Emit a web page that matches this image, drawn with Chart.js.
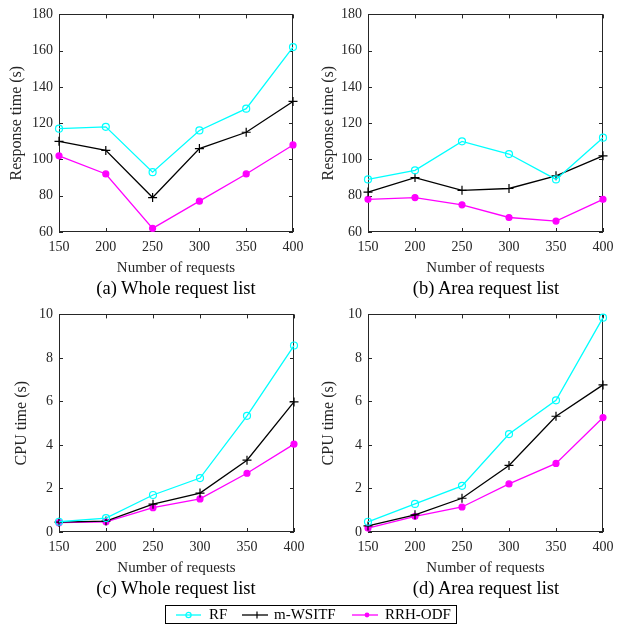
<!DOCTYPE html>
<html>
<head>
<meta charset="utf-8">
<script src="https://cdn.jsdelivr.net/npm/chart.js"></script>
<style>
  body { margin: 0; background: #fff; font-family: "Liberation Serif", "Times New Roman", serif; }
  #page { position: relative; width: 628px; height: 626px; }
  .panel { position: absolute; width: 314px; height: 280px; }
  .caption { position: absolute; font-size: 18.5px; line-height: 22px; color: #000; white-space: nowrap; transform: translateX(-50%); }
  #legend { position: absolute; left: 165px; top: 605px; width: 290px; height: 17px; border: 1px solid #000; font-size: 15px; color: #000; white-space: nowrap; }
  #legend svg { position: absolute; top: 4px; }
  #legend span { position: absolute; top: 0; line-height: 17px; }
</style>
</head>
<body>
<div id="page">
  <div class="panel" style="left:0;top:0"><canvas id="c1"></canvas></div>
  <div class="panel" style="left:314px;top:0"><canvas id="c2"></canvas></div>
  <div class="panel" style="left:0;top:300px"><canvas id="c3"></canvas></div>
  <div class="panel" style="left:314px;top:300px"><canvas id="c4"></canvas></div>
  <div class="caption" style="left:176px;top:277px">(a) Whole request list</div>
  <div class="caption" style="left:486px;top:277px">(b) Area request list</div>
  <div class="caption" style="left:176px;top:577px">(c) Whole request list</div>
  <div class="caption" style="left:486px;top:577px">(d) Area request list</div>
  <div id="legend">
    <svg style="left:10px" width="25" height="10"><line x1="0" y1="5" x2="25" y2="5" stroke="#00FFFF" stroke-width="1.3"/><circle cx="12.5" cy="5" r="2.6" fill="none" stroke="#00FFFF" stroke-width="1.2"/></svg>
    <span style="left:43px">RF</span>
    <svg style="left:76px" width="26" height="10"><line x1="0" y1="5" x2="26" y2="5" stroke="#000" stroke-width="1.3"/><line x1="15" y1="1.5" x2="15" y2="8.5" stroke="#000" stroke-width="1.2"/></svg>
    <span style="left:108px">m-WSITF</span>
    <svg style="left:186px" width="26" height="10"><line x1="0" y1="5" x2="26" y2="5" stroke="#FF00FF" stroke-width="1.3"/><circle cx="15" cy="5" r="2.4" fill="#FF00FF"/></svg>
    <span style="left:219px">RRH-ODF</span>
  </div>
</div>
<script>
const requests = [150, 200, 250, 300, 350, 400];
const seriesNames = ['RF', 'm-WSITF', 'RRH-ODF'];

// response time, whole request list
const wholeRespRF = [117, 118, 93, 116, 128, 162];
const wholeRespMW = [110, 105, 79, 106, 115, 132];
const wholeRespRRH = [102, 92, 62, 77, 92, 108];

// response time, area request list
const areaRespRF = [89, 94, 110, 103, 89, 112];
const areaRespMW = [82, 90, 83, 84, 91, 102];
const areaRespRRH = [78, 79, 75, 68, 66, 78];

// cpu time, whole request list
const wholeCpuRF = [0.47, 0.64, 1.70, 2.48, 5.34, 8.57];
const wholeCpuMW = [0.45, 0.50, 1.28, 1.79, 3.30, 5.98];
const wholeCpuRRH = [0.43, 0.47, 1.12, 1.52, 2.70, 4.04];

// cpu time, area request list
const areaCpuRF = [0.47, 1.29, 2.12, 4.50, 6.05, 9.85];
const areaCpuMW = [0.28, 0.79, 1.55, 3.06, 5.32, 6.76];
const areaCpuRRH = [0.18, 0.72, 1.15, 2.21, 3.15, 5.26];

const respTicks = [60, 80, 100, 120, 140, 160, 180];
const cpuTicks = [0, 2, 4, 6, 8, 10];

const axisColor = '#262626';
const serif = '"Liberation Serif", "Times New Roman", serif';

const styles = [
  { color: '#00FFFF', pointStyle: 'circle', radius: 3.5, fill: 'rgba(0,0,0,0)' },
  { color: '#000000', pointStyle: 'cross', radius: 4.5, fill: '#000000' },
  { color: '#FF00FF', pointStyle: 'circle', radius: 3, fill: '#FF00FF' }
];

// box round the plot area with inward ticks on every side
const boxAxes = {
  id: 'boxAxes',
  beforeDatasetsDraw(chart) {
    const { ctx, chartArea: a, scales: { x, y } } = chart;
    const len = 4;
    ctx.save();
    ctx.strokeStyle = axisColor;
    ctx.lineWidth = 1;
    ctx.strokeRect(Math.round(a.left) + 0.5, Math.round(a.top) + 0.5,
                   Math.round(a.width) - 1, Math.round(a.height) - 1);
    ctx.beginPath();
    x.ticks.forEach(t => {
      const px = Math.round(x.getPixelForValue(t.value)) + 0.5;
      ctx.moveTo(px, a.bottom); ctx.lineTo(px, a.bottom - len);
      ctx.moveTo(px, a.top); ctx.lineTo(px, a.top + len);
    });
    y.ticks.forEach(t => {
      const py = Math.round(y.getPixelForValue(t.value)) + 0.5;
      ctx.moveTo(a.left, py); ctx.lineTo(a.left + len, py);
      ctx.moveTo(a.right, py); ctx.lineTo(a.right - len, py);
    });
    ctx.stroke();
    ctx.restore();
  }
};

function makePanel(id, series, yTicks, yTitle, leftWidth, rightPad, titleCenter) {
  const datasets = series.map((vals, i) => ({
    label: seriesNames[i],
    data: requests.map((r, j) => ({ x: r, y: vals[j] })),
    borderColor: styles[i].color,
    backgroundColor: styles[i].fill,
    pointBorderColor: styles[i].color,
    pointBackgroundColor: styles[i].fill,
    pointStyle: styles[i].pointStyle,
    pointRadius: styles[i].radius,
    pointBorderWidth: 1.2,
    borderWidth: 1.3,
    tension: 0,
    clip: false
  }));

  new Chart(document.getElementById(id), {
    type: 'line',
    data: { datasets },
    options: {
      responsive: false,
      animation: false,
      events: [],
      layout: { padding: { left: 0, right: rightPad, top: 9, bottom: 0 } },
      plugins: { legend: { display: false }, tooltip: { enabled: false } },
      scales: {
        x: {
          type: 'linear',
          min: requests[0],
          max: requests[requests.length - 1],
          afterBuildTicks: s => { s.ticks = requests.map(v => ({ value: v })); },
          grid: { display: false, drawTicks: false },
          border: { display: false },
          ticks: { color: axisColor, font: { family: serif, size: 14 }, padding: 7, maxRotation: 0 },
          title: { display: true, text: 'Number of requests', color: axisColor,
                   font: { family: serif, size: 15 }, padding: { top: 0, bottom: 3 } },
          afterFit: s => { s.height = 48; }
        },
        y: {
          min: yTicks[0],
          max: yTicks[yTicks.length - 1],
          afterBuildTicks: s => { s.ticks = yTicks.map(v => ({ value: v })); },
          grid: { display: false, drawTicks: false },
          border: { display: false },
          ticks: { color: axisColor, font: { family: serif, size: 14 }, padding: 6 },
          title: { display: true, text: yTitle, color: axisColor,
                   font: { family: serif, size: 16 }, padding: { top: titleCenter - 9.6, bottom: 0 } },
          afterFit: s => { s.width = leftWidth; }
        }
      }
    },
    plugins: [boxAxes]
  });
}

for (const id of ['c1', 'c2', 'c3', 'c4']) {
  const c = document.getElementById(id);
  c.width = 314; c.height = 280;
}

makePanel('c1', [wholeRespRF, wholeRespMW, wholeRespRRH], respTicks, 'Response time (s)', 59, 21, 17);
makePanel('c2', [areaRespRF, areaRespMW, areaRespRRH], respTicks, 'Response time (s)', 54, 25, 15);
makePanel('c3', [wholeCpuRF, wholeCpuMW, wholeCpuRRH], cpuTicks, 'CPU time (s)', 59, 20, 22);
makePanel('c4', [areaCpuRF, areaCpuMW, areaCpuRRH], cpuTicks, 'CPU time (s)', 54, 25, 15);
</script>
</body>
</html>
